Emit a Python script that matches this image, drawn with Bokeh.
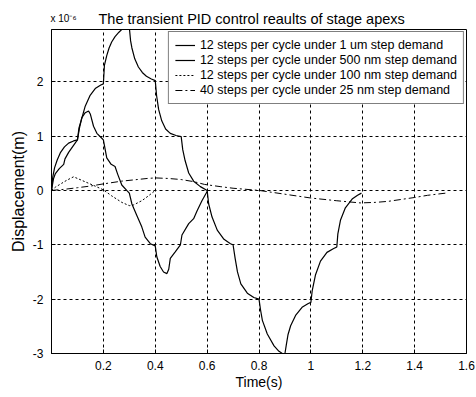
from bokeh.plotting import figure
from bokeh.models import Range1d, FixedTicker, Legend, LegendItem, Label
from bokeh.embed import file_html
from bokeh.resources import INLINE

# ---- data, y in units of 1e-6 m ----
um1_t = [0.000, 0.005, 0.012, 0.022, 0.035, 0.050, 0.066, 0.085, 0.100,
         0.106, 0.117, 0.130, 0.149, 0.170, 0.190, 0.200,
         0.204, 0.213, 0.222, 0.232, 0.245, 0.260, 0.275, 0.285, 0.300,
         0.305, 0.310, 0.321, 0.335, 0.350, 0.366, 0.385, 0.400,
         0.405, 0.413, 0.425, 0.440, 0.458, 0.480, 0.500,
         0.506, 0.515, 0.529, 0.548, 0.574, 0.600,
         0.606, 0.619, 0.639, 0.665, 0.690, 0.700,
         0.708, 0.717, 0.730, 0.755, 0.780, 0.800,
         0.806, 0.813, 0.832, 0.858, 0.877, 0.890, 0.900,
         0.905, 0.912, 0.922, 0.941, 0.966, 0.990, 1.000,
         1.005, 1.018, 1.037, 1.062, 1.088, 1.100,
         1.104, 1.114, 1.133, 1.159, 1.180, 1.195]
um1_y = [0.00, 0.25, 0.42, 0.56, 0.70, 0.80, 0.87, 0.91, 0.93,
         1.15, 1.33, 1.55, 1.75, 1.88, 1.94, 1.96,
         2.30, 2.48, 2.62, 2.73, 2.83, 2.91, 2.98, 3.00, 3.00,
         2.75, 2.62, 2.42, 2.27, 2.17, 2.10, 2.05, 2.02,
         1.75, 1.49, 1.28, 1.13, 1.05, 1.01, 0.99,
         0.75, 0.55, 0.32, 0.17, 0.07, 0.00,
         -0.25, -0.49, -0.73, -0.90, -0.98, -1.00,
         -1.25, -1.50, -1.72, -1.89, -1.97, -2.00,
         -2.20, -2.39, -2.64, -2.86, -2.96, -3.00, -3.00,
         -2.85, -2.65, -2.49, -2.30, -2.15, -2.08, -2.06,
         -1.85, -1.55, -1.30, -1.14, -1.07, -1.04,
         -0.80, -0.55, -0.32, -0.16, -0.09, -0.05]

nm500_t = [0.000, 0.008, 0.015, 0.030, 0.047, 0.052, 0.066, 0.085, 0.100,
           0.108, 0.117, 0.130, 0.143, 0.150, 0.162, 0.175, 0.194, 0.200,
           0.213, 0.230, 0.245, 0.255, 0.271, 0.290, 0.300,
           0.310, 0.329, 0.348, 0.361, 0.381, 0.400,
           0.406, 0.419, 0.432, 0.445, 0.452, 0.458, 0.477, 0.497,
           0.503, 0.529, 0.548, 0.561, 0.580, 0.600]
nm500_y = [0.00, 0.22, 0.31, 0.40, 0.48, 0.58, 0.70, 0.83, 0.93,
           1.15, 1.34, 1.43, 1.46, 1.40, 1.18, 1.05, 0.96, 0.93,
           0.60, 0.48, 0.44, 0.30, 0.10, 0.00, -0.05,
           -0.25, -0.46, -0.67, -0.86, -0.98, -1.02,
           -1.22, -1.40, -1.50, -1.53, -1.45, -1.25, -1.13, -1.00,
           -0.82, -0.61, -0.52, -0.38, -0.19, -0.02]

nm100_t = [0.000, 0.015, 0.039, 0.060, 0.085, 0.100, 0.129, 0.168, 0.200,
           0.232, 0.271, 0.300, 0.315, 0.348, 0.374, 0.400]
nm100_y = [0.00, 0.06, 0.13, 0.19, 0.25, 0.22, 0.16, 0.08, 0.01,
           -0.10, -0.22, -0.28, -0.27, -0.19, -0.10, 0.00]

nm25_t = [0.00, 0.05, 0.10, 0.15, 0.20, 0.27, 0.33, 0.37, 0.40, 0.45, 0.50,
          0.55, 0.59, 0.65, 0.70, 0.80, 0.90, 1.00, 1.10, 1.19, 1.25, 1.30,
          1.40, 1.45, 1.52]
nm25_y = [0.00, 0.02, 0.05, 0.08, 0.12, 0.17, 0.20, 0.22, 0.23, 0.22, 0.20,
          0.16, 0.11, 0.07, 0.04, 0.00, -0.07, -0.14, -0.19, -0.23, -0.22, -0.20,
          -0.13, -0.09, -0.05]

x_ticks = [0.2, 0.4, 0.6, 0.8, 1, 1.2, 1.4, 1.6]
x_tick_labels = ["0.2", "0.4", "0.6", "0.8", "1", "1.2", "1.4", "1.6"]
y_ticks = [-3, -2, -1, 0, 1, 2]
y_tick_labels = ["-3", "-2", "-1", "0", "1", "2"]

legend_labels = [
    "12 steps per cycle under 1 um step demand",
    "12 steps per cycle under 500 nm step demand",
    "12 steps per cycle under 100 nm step demand",
    "40 steps per cycle under 25 nm step demand",
]
title_text = "The transient PID control reaults of stage apexs"
scale_text = "x 10\u207b\u2076"

FONT = "Liberation Sans"

p = figure(width=476, height=397, output_backend="svg", toolbar_location=None,
           x_range=Range1d(0, 1.6), y_range=Range1d(-3, 2.96),
           min_border_left=51, min_border_right=10, min_border_top=29,
           min_border_bottom=44)
p.title = None
p.background_fill_color = "white"
p.border_fill_color = "white"
p.outline_line_color = "black"
p.outline_line_width = 1

for ax, ticks, labels in ((p.xaxis[0], x_ticks, x_tick_labels),
                          (p.yaxis[0], y_ticks, y_tick_labels)):
    ax.ticker = FixedTicker(ticks=ticks)
    ax.major_label_overrides = {t: l for t, l in zip(ticks, labels)}
    ax.major_tick_in = 4
    ax.major_tick_out = 0
    ax.minor_tick_line_color = None
    ax.axis_line_color = "black"
    ax.major_tick_line_color = "black"
    ax.major_label_text_font = FONT
    ax.major_label_text_font_size = "12px"
    ax.major_label_text_color = "black"
    ax.axis_label_text_font = FONT
    ax.axis_label_text_font_style = "normal"
    ax.axis_label_text_color = "black"

p.xaxis.axis_label = "Time(s)"
p.xaxis.axis_label_text_font_size = "14px"
p.xaxis.major_label_standoff = 7
p.xaxis.axis_label_standoff = 1
p.yaxis.axis_label = "Displacement(m)"
p.yaxis.axis_label_text_font_size = "16px"
p.yaxis.major_label_standoff = 8
p.yaxis.axis_label_standoff = 3

for g in (p.xgrid[0], p.ygrid[0]):
    g.grid_line_color = "black"
    g.grid_line_dash = "3 3"
    g.grid_line_width = 1

r1 = p.line(um1_t, um1_y, line_color="black", line_width=1.2)
r2 = p.line(nm500_t, nm500_y, line_color="black", line_width=1.2)
r3 = p.line(nm100_t, nm100_y, line_color="black", line_width=1, line_dash="2 2")
r4 = p.line(nm25_t, nm25_y, line_color="black", line_width=1, line_dash="7 3 2 3")

legend = Legend(items=[LegendItem(label=lab, renderers=[r])
                       for lab, r in zip(legend_labels, [r1, r2, r3, r4])],
                location="top_right")
legend.margin = 2
legend.padding = 6
legend.spacing = 1
legend.glyph_width = 20
legend.glyph_height = 14
legend.label_height = 14
legend.label_standoff = 5
legend.label_text_font = FONT
legend.label_text_font_size = "12.5px"
legend.label_text_color = "black"
legend.border_line_color = "black"
legend.border_line_width = 1
legend.background_fill_color = "white"
legend.background_fill_alpha = 1
p.add_layout(legend)

# texts above the frame (side-panel annotations are not clipped)
p.add_layout(Label(x=47, y=11, x_units="screen", y_units="screen",
                   text=title_text, text_align="left",
                   text_baseline="alphabetic", text_font=FONT,
                   text_font_size="14.5px", text_color="black"), "above")
p.add_layout(Label(x=-1, y=-5, x_units="screen", y_units="screen",
                   text=scale_text, text_align="left",
                   text_baseline="alphabetic", text_font=FONT,
                   text_font_size="10px", text_color="black"), "above")

open("out.html", "w").write(file_html(p, INLINE))
